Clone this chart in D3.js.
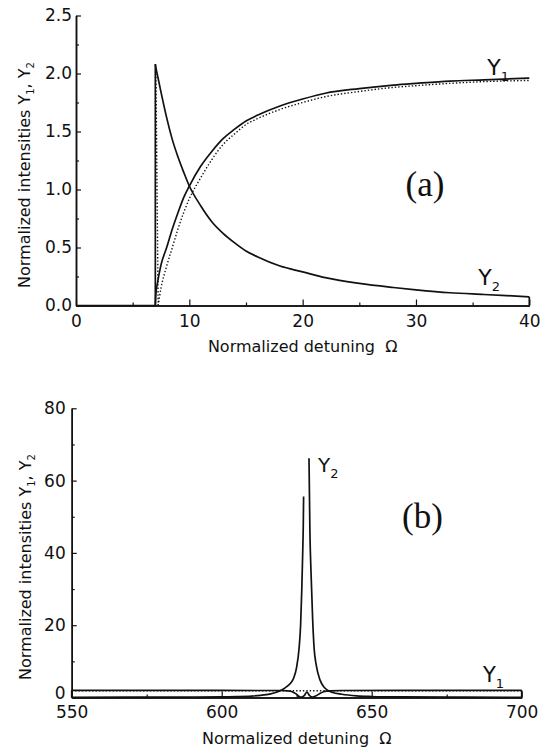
<!DOCTYPE html>
<html>
<head>
<meta charset="utf-8">
<script src="https://cdn.jsdelivr.net/npm/d3@7"></script>
<style>
  body { margin: 0; background: #fff; }
  svg { display: block; }
  text { font-family: "DejaVu Sans", sans-serif; fill: #111; }
</style>
</head>
<body>
<svg id="chart" width="543" height="750"></svg>
<script>
// ---- panel (a) data: normalized detuning vs intensities
var omegaA = [7, 7.05, 7.2, 7.5, 8, 8.5, 9, 9.5, 10, 11, 12, 13, 14, 15, 16, 18, 20, 22, 25, 28, 30, 33, 36, 40]
var y1A = [0, 0.1, 0.2, 0.35, 0.5, 0.66, 0.8, 0.93, 1.03, 1.2, 1.33, 1.44, 1.52, 1.59, 1.64, 1.72, 1.78, 1.83, 1.87, 1.9, 1.915, 1.935, 1.945, 1.96]
var y2A = [2.08, 2.05, 1.98, 1.84, 1.62, 1.43, 1.28, 1.15, 1.03, 0.86, 0.72, 0.62, 0.54, 0.47, 0.42, 0.34, 0.29, 0.24, 0.19, 0.155, 0.135, 0.11, 0.095, 0.075]
// dotted approximation of Y1
var omegaAdot = [7.25, 7.5, 8, 8.5, 9, 9.5, 10, 11, 12, 13, 14, 15, 16, 18, 20, 22, 25, 28, 30, 33, 36, 40]
var y1Adot = [0, 0.15, 0.34, 0.5, 0.66, 0.8, 0.92, 1.1, 1.26, 1.39, 1.48, 1.56, 1.61, 1.69, 1.75, 1.8, 1.845, 1.88, 1.895, 1.915, 1.93, 1.94]
var edgeDotOmega = [7.05, 7.25]
var edgeDotY = [2.03, 0]
var xTicksA = [0, 10, 20, 30, 40]
var xMinorA = [5, 15, 25, 35]
var yTicksA = [0, 0.5, 1, 1.5, 2, 2.5]
var yMinorA = [0.25, 0.75, 1.25, 1.75, 2.25]

// ---- panel (b) data
var omegaB2L = [550, 570, 590, 600, 605, 610, 613, 616, 618, 620, 622, 623, 624, 625, 625.8, 626.3, 626.7, 627.0, 627.2, 627.3]
var y2BL = [0.05, 0.08, 0.12, 0.18, 0.25, 0.4, 0.6, 0.95, 1.4, 2.1, 3.2, 4.0, 5.4, 8.5, 13.7, 20, 30, 40, 48, 55.6]
var omegaB2R = [629.1, 629.4, 629.8, 630.3, 630.8, 631.5, 632.8, 634, 635, 637, 640, 645, 650, 660, 680, 700]
var y2BR = [66.2, 46, 34, 22, 13.7, 9, 4.8, 3, 2.2, 1.4, 0.9, 0.45, 0.28, 0.15, 0.08, 0.05]
var omegaB1 = [550, 600, 615, 620, 622, 623.5, 624.8, 625.8, 626.5, 627.5, 628.4, 629.3, 630.3, 631.3, 632.5, 634, 636, 640, 660, 700]
var y1B = [1.95, 1.95, 1.94, 1.93, 1.85, 1.6, 1.0, 0.3, 0.1, 0.5, 1.5, 0.5, 0.1, 0.4, 1.0, 1.6, 1.85, 1.93, 1.95, 1.95]
var omegaBdot = [550, 700]
var y1Bdot = [1.85, 1.85]
var xTicksB = [550, 600, 650, 700]
var xMinorB = [575, 625, 675]
var yTicksB = [0, 20, 40, 60, 80]
var yMinorB = [10, 30, 50, 70]

var svg = d3.select('#chart')
var zip = function(xs, ys) { return xs.map(function(v, i) { return [v, ys[i]] }) }

function drawFrame(p) {
  var g = svg.append('g')
  var xAxis = d3.axisBottom(p.x).tickValues(p.xTicks).tickSizeInner(-6).tickSizeOuter(0).tickPadding(p.xPad).tickFormat(d3.format('d'))
  var xMinor = d3.axisBottom(p.x).tickValues(p.xMinor).tickSizeInner(-3).tickSizeOuter(0).tickFormat('')
  var yAxis = d3.axisLeft(p.y).tickValues(p.yTicks).tickSizeInner(-5).tickSizeOuter(0).tickPadding(p.yPad).tickFormat(p.yFmt)
  var yMinor = d3.axisLeft(p.y).tickValues(p.yMinor).tickSizeInner(-3).tickSizeOuter(0).tickFormat('')

  var bottom = p.y.range()[0], left = p.x.range()[0]
  ;[xAxis, xMinor].forEach(function(a) {
    g.append('g').attr('transform', 'translate(0,' + bottom + ')').call(a)
  })
  var ya = g.append('g').attr('transform', 'translate(' + left + ',0)').call(yAxis)
  g.append('g').attr('transform', 'translate(' + left + ',0)').call(yMinor)
  // lowest label sits a little above its tick, as in the original
  ya.selectAll('.tick text').filter(function(d) { return d === 0 }).attr('dy', p.zeroDy)

  g.selectAll('.domain').attr('stroke', '#111').attr('stroke-width', 1.5)
  g.selectAll('.tick line').attr('stroke', '#111').attr('stroke-width', 1.2)
  g.selectAll('.tick text').style('font-size', '17px').attr('fill', '#111')

  // axis titles
  g.append('text')
    .attr('x', (p.x.range()[0] + p.x.range()[1]) / 2)
    .attr('y', bottom + 46)
    .attr('text-anchor', 'middle')
    .style('font-size', '16px')
    .text('Normalized detuning \u00a0\u03a9')

  var yl = g.append('text')
    .attr('transform', 'translate(' + p.yLabelX + ',' + p.yLabelY + ') rotate(-90)')
    .attr('text-anchor', 'middle')
    .style('font-size', '16px')
  yl.append('tspan').text('Normalized intensities Y')
  yl.append('tspan').text('1').style('font-size', '10px').attr('dy', 4)
  yl.append('tspan').text(', Y').attr('dy', -4)
  yl.append('tspan').text('2').style('font-size', '10px').attr('dy', 4)
}

function label(p, om, val, sub, big, small) {
  var t = svg.append('text')
    .attr('x', p.x(om))
    .attr('y', p.y(val))
    .style('font-size', big + 'px')
  t.append('tspan').text('Y')
  t.append('tspan').text(sub).style('font-size', small + 'px').attr('dy', 6)
}

function curve(p, pts, dotted) {
  var line = d3.line().x(function(d) { return p.x(d[0]) }).y(function(d) { return p.y(d[1]) }).curve(d3.curveMonotoneX)
  svg.append('path')
    .datum(pts)
    .attr('d', line)
    .attr('fill', 'none')
    .attr('stroke', '#111')
    .attr('stroke-width', dotted ? 1.4 : 1.7)
    .attr('stroke-dasharray', dotted ? '1.4,2' : null)
}

function segs(p, pts, dotted) {
  var line = d3.line().x(function(d) { return p.x(d[0]) }).y(function(d) { return p.y(d[1]) })
  svg.append('path')
    .datum(pts)
    .attr('d', line)
    .attr('fill', 'none')
    .attr('stroke', '#111')
    .attr('stroke-width', dotted ? 1.4 : 1.7)
    .attr('stroke-dasharray', dotted ? '1.4,2' : null)
}

// ---------- panel (a)
var pa = {
  x: d3.scaleLinear().domain([0, 40]).range([76, 529.3]),
  y: d3.scaleLinear().domain([0, 2.5]).range([305.5, 15.5]),
  xTicks: xTicksA, xMinor: xMinorA, yTicks: yTicksA, yMinor: yMinorA,
  xPad: 9, yPad: 4, yFmt: d3.format('.1f'), zeroDy: '0.32em',
  yLabelX: 30, yLabelY: 175
}
drawFrame(pa)
var nA = omegaA.length - 1
segs(pa, [[0, 0], [omegaA[0], 0], [omegaA[0], y2A[0]]])
segs(pa, [[omegaA[nA], y2A[nA]], [omegaA[nA], 0]])
curve(pa, zip(omegaA, y1A))
curve(pa, zip(omegaA, y2A))
segs(pa, zip(edgeDotOmega, edgeDotY), true)
curve(pa, zip(omegaAdot, y1Adot), true)
label(pa, 36.3, 1.99, '1', 22, 13)
label(pa, 35.5, 0.177, '2', 22, 13)
svg.append('text')
  .attr('x', pa.x(30.8)).attr('y', pa.y(0.94))
  .attr('text-anchor', 'middle')
  .style('font-family', '"Liberation Serif", serif')
  .style('font-size', '35px')
  .text('(a)')

// ---------- panel (b)
var pb = {
  x: d3.scaleLinear().domain([550, 700]).range([71.7, 521.7]),
  y: d3.scaleLinear().domain([0, 80]).range([697.5, 408.3]),
  xTicks: xTicksB, xMinor: xMinorB, yTicks: yTicksB, yMinor: yMinorB,
  xPad: 8.5, yPad: 6, yFmt: d3.format('d'), zeroDy: '0.05em',
  yLabelX: 31, yLabelY: 567
}
drawFrame(pb)
var nB = omegaB1.length - 1
segs(pb, [[omegaB1[0], 0], [omegaB1[0], y1B[0]]])
segs(pb, [[omegaB1[nB], y1B[nB]], [omegaB1[nB], 0]])
curve(pb, zip(omegaB1, y1B))
curve(pb, zip(omegaB2L, y2BL))
curve(pb, zip(omegaB2R, y2BR))
segs(pb, zip(omegaBdot, y1Bdot), true)
label(pb, 632.1, 62.4, '2', 20, 13)
label(pb, 687.1, 4.3, '1', 21, 13)
svg.append('text')
  .attr('x', pb.x(666.9)).attr('y', pb.y(46.9))
  .attr('text-anchor', 'middle')
  .style('font-family', '"Liberation Serif", serif')
  .style('font-size', '35px')
  .text('(b)')
</script>
</body>
</html>
